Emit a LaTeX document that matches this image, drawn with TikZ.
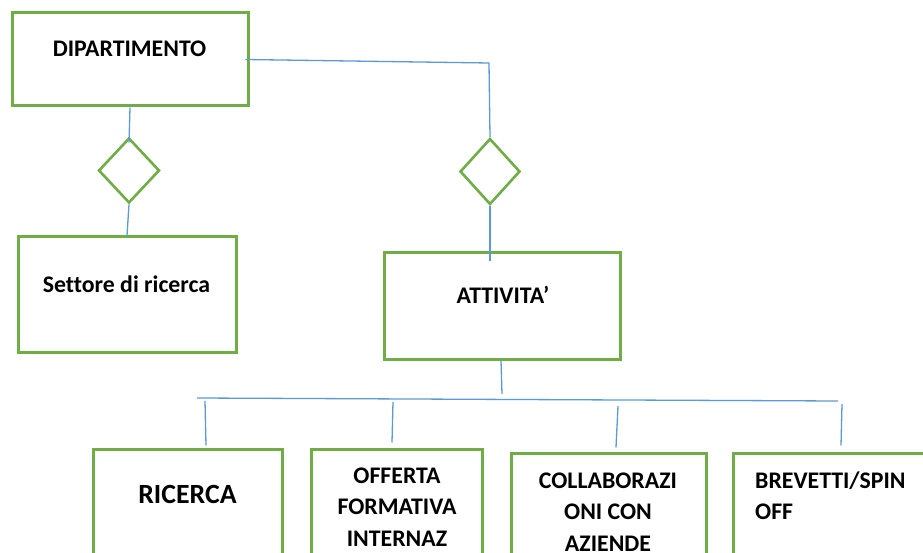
\documentclass[tikz,border=0pt]{standalone}
\usepackage{fontspec}
\setmainfont{Carlito}[Ligatures={NoCommon}]
\usetikzlibrary{shapes.geometric}
\definecolor{boxgreen}{HTML}{70AD47}
\definecolor{linkblue}{HTML}{5B9BD5}
\tikzset{
  entbox/.style={draw=boxgreen, line width=3pt, rectangle, inner sep=0pt},
  reldia/.style={draw=boxgreen, line width=2.6pt, diamond, inner sep=0pt},
  link/.style={draw=linkblue, line width=1.3pt},
  lbl/.style={inner sep=0pt, font=\fontsize{23.8}{31.5}\selectfont\bfseries, text=black},
  biglbl/.style={inner sep=0pt, font=\fontsize{27.8}{33}\selectfont\bfseries, text=black}
}
\begin{document}
\begin{tikzpicture}[x=1pt, y=-1pt]
\path[use as bounding box, fill=white] (0,0) rectangle (923,553);
\clip (0,0) rectangle (923,553);

% boxes
\node[entbox, minimum width=236pt, minimum height=93pt] (dep) at (130,59.5) {};
\node[entbox, minimum width=218pt, minimum height=115pt] (set) at (127,294.5) {};
\node[entbox, minimum width=236pt, minimum height=106pt] (att) at (502,306) {};
\node[entbox, minimum width=189pt, minimum height=160pt] (ric) at (187.5,529) {};
\node[entbox, minimum width=171pt, minimum height=160pt] (off) at (396.5,529) {};
\node[entbox, minimum width=195pt, minimum height=160pt] (col) at (608.5,533) {};
\node[entbox, minimum width=240pt, minimum height=160pt] (bre) at (853,533) {};

% diamonds
\node[reldia, minimum width=61pt, minimum height=65pt] (d1) at (129,170.5) {};
\node[reldia, minimum width=60pt, minimum height=66pt] (d2) at (490,171.5) {};

% texts (base anchor of multi-line nodes = last baseline)
\node[lbl, anchor=base] (tdep) at (129.5,57) {DIPARTIMENTO};
\node[lbl, anchor=base] (tset) at (126.5,292) {Settore di ricerca};
\node[lbl, anchor=base] (tatt) at (503,303) {ATTIVITA’};
\node[biglbl, anchor=base] (tric) at (187.5,503) {RICERCA};
\node[lbl, anchor=base, align=center] (toff) at (397,546) {OFFERTA\\FORMATIVA\\INTERNAZ};
\node[lbl, anchor=base, align=center] (tcol) at (608,551) {COLLABORAZI\\ONI CON\\AZIENDE};
\node[lbl, anchor=base west, align=left] (tbre) at (755,519.5) {BREVETTI/SPIN\\OFF};

% connectors
\draw[link] ([xshift=-4pt]dep.east) -- (489,63) -- (d2.north);
\draw[link] (dep.south) -- ([yshift=-6pt]d1.north);
\draw[link] (d1.south) -- (set.north);
\draw[link] (d2.south) -- ([yshift=-10pt]d2.south |- att.north);
\draw[link] ([xshift=-1pt]att.south) -- (502,394);
\coordinate (busL) at (197,398);
\coordinate (busR) at (838,401);
\draw[link] (busL) -- (busR);
\draw[link] (205,401) -- ([yshift=2pt]206,0 |- ric.north);
\draw[link] (393,402) -- ([yshift=5pt]392,0 |- off.north);
\draw[link] (618,406) -- ([yshift=4pt]616,0 |- col.north);
\draw[link] (842,404) -- ([yshift=6pt]841,0 |- bre.north);
\end{tikzpicture}
\end{document}
